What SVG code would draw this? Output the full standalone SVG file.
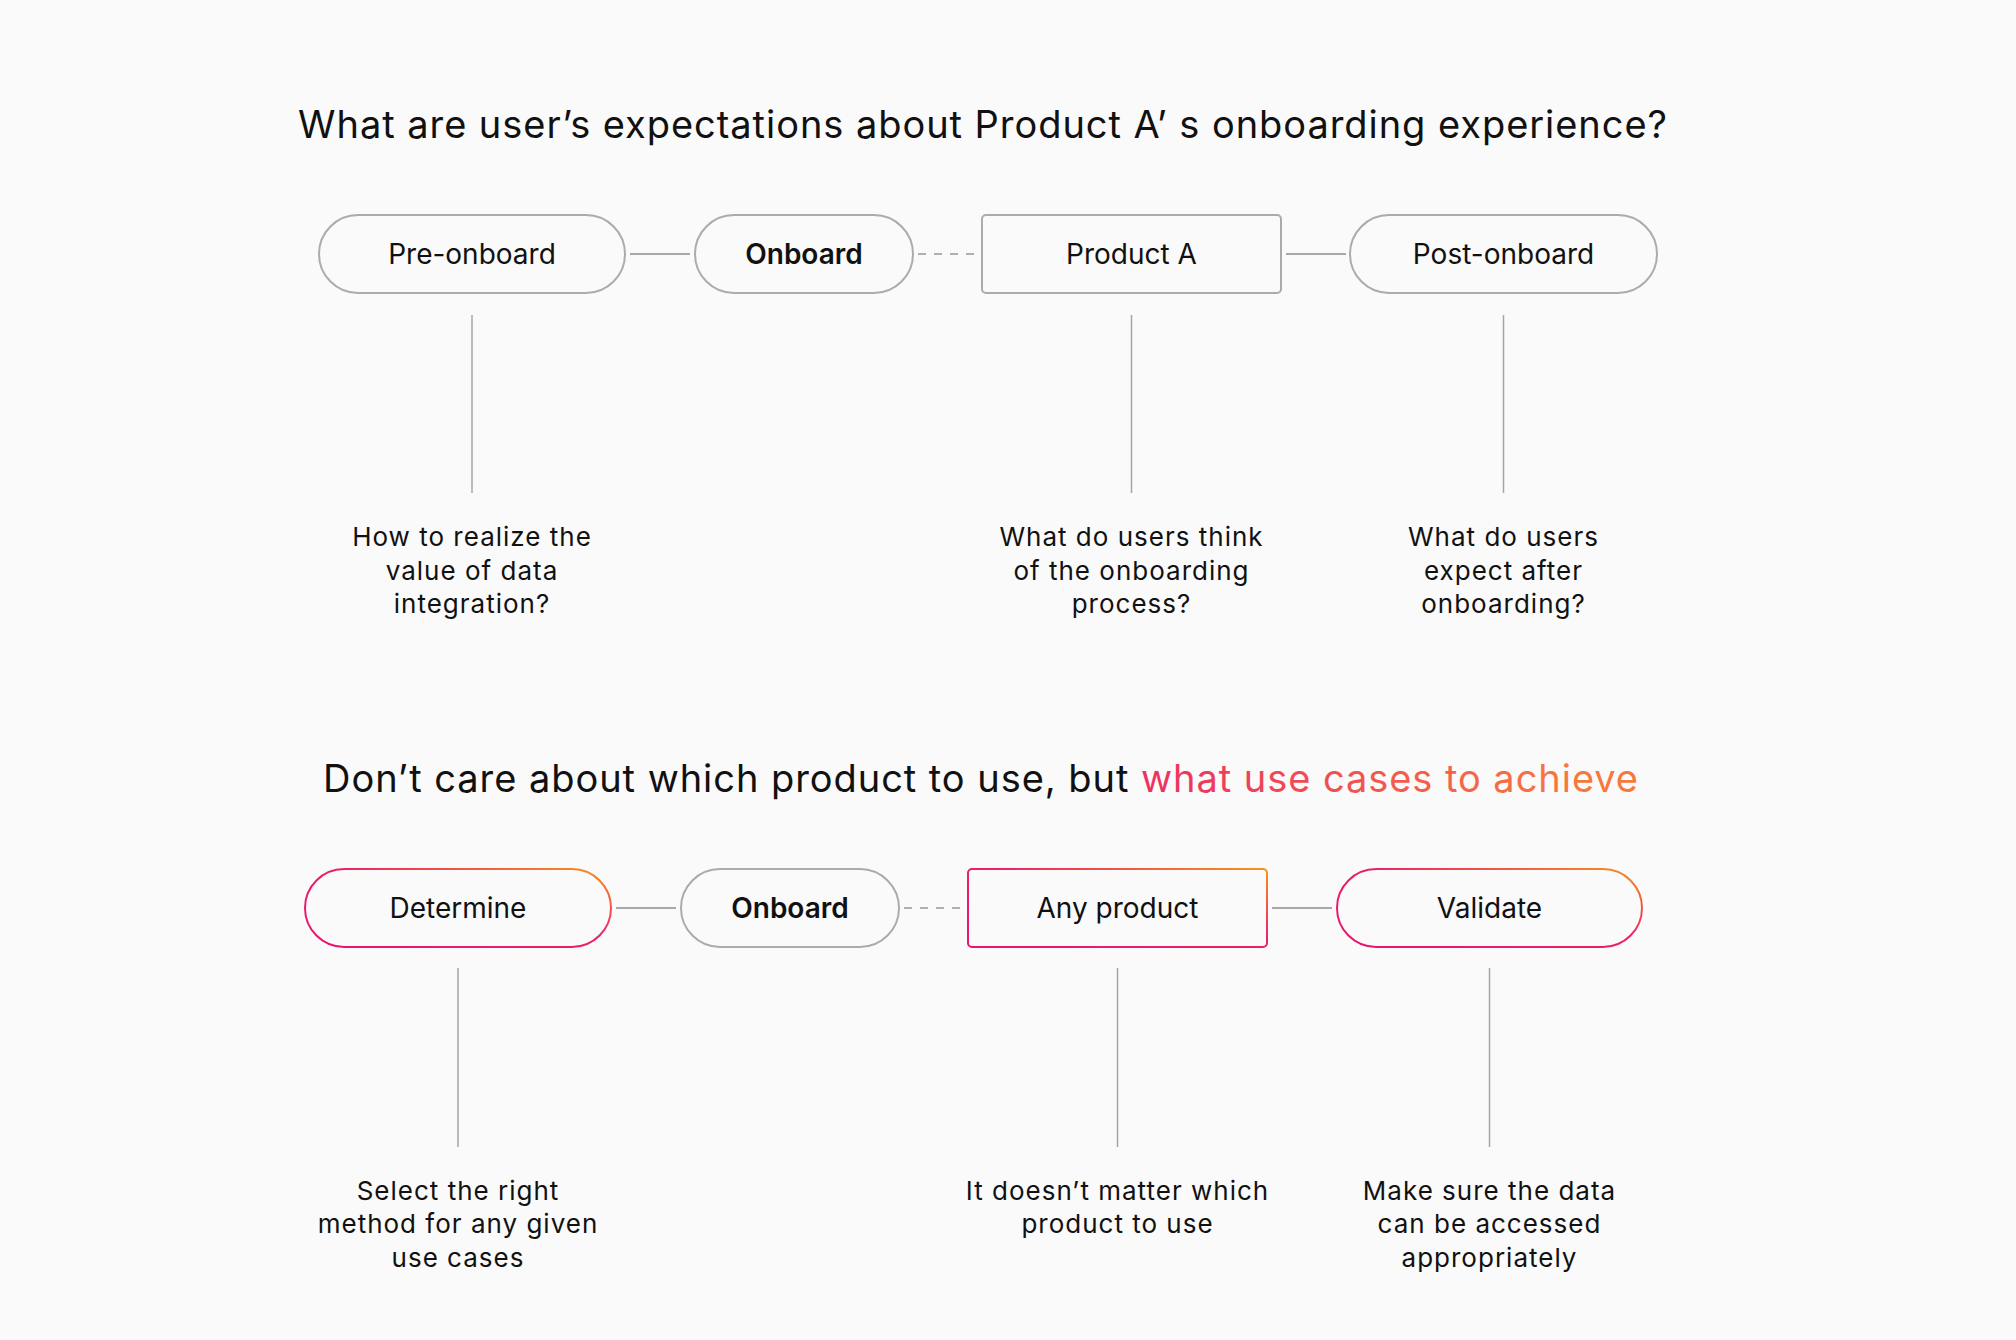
<svg xmlns="http://www.w3.org/2000/svg" width="2016" height="1340" viewBox="0 0 2016 1340">
<defs>
<linearGradient id="gb" x1="0" y1="1" x2="1" y2="0">
<stop offset="0" stop-color="#E8156F"/>
<stop offset="0.55" stop-color="#EC2068"/>
<stop offset="1" stop-color="#F7941D"/>
</linearGradient>
<linearGradient id="gt" gradientUnits="userSpaceOnUse" x1="1142" y1="800" x2="1560" y2="720">
<stop offset="0" stop-color="#EC3062"/>
<stop offset="1" stop-color="#F6783E"/>
</linearGradient>
<style>
.t{font-family:Inter,"Liberation Sans",sans-serif;fill:#111111}
.title{font-size:38px;letter-spacing:0.95px}
.lbl{font-size:28px;text-anchor:middle}
.b{font-weight:560}
.q{font-size:26px;text-anchor:middle;letter-spacing:1px}
.g{fill:none;stroke:#ABABAB;stroke-width:2}
.gr{fill:none;stroke:url(#gb);stroke-width:2}
.c{stroke:#A8A8A8;stroke-width:2;fill:none}
.d{stroke:#B0B0B0;stroke-width:2;stroke-dasharray:8 8;fill:none}
.v{stroke:#A5A5A5;stroke-width:1.5;fill:none}
</style>
</defs>
<rect width="2016" height="1340" fill="#FAFAFA"/>

<text class="t title" x="983" y="138" text-anchor="middle">What are user’s expectations about Product A’ s onboarding experience?</text>
<text class="t title" x="981" y="792" text-anchor="middle">Don’t care about which product to use, but <tspan fill="url(#gt)">what use cases to achieve</tspan></text>

<g id="connectors">
<line class="c" x1="630" y1="254" x2="690" y2="254"/>
<line class="d" x1="918" y1="254" x2="978" y2="254"/>
<line class="c" x1="1286" y1="254" x2="1346" y2="254"/>
<line class="v" x1="472" y1="315" x2="472" y2="493"/>
<line class="v" x1="1131.5" y1="315" x2="1131.5" y2="493"/>
<line class="v" x1="1503.5" y1="315" x2="1503.5" y2="493"/>
<line class="c" x1="616" y1="908" x2="676" y2="908"/>
<line class="d" x1="904" y1="908" x2="964" y2="908"/>
<line class="c" x1="1272" y1="908" x2="1332" y2="908"/>
<line class="v" x1="458" y1="968" x2="458" y2="1147"/>
<line class="v" x1="1117.5" y1="968" x2="1117.5" y2="1147"/>
<line class="v" x1="1489.5" y1="968" x2="1489.5" y2="1147"/>
</g>

<g id="pre-onboard">
<rect class="g" x="319" y="215" width="306" height="78" rx="39"/>
<text class="t lbl" x="472" y="264">Pre-onboard</text>
</g>
<g id="onboard-1">
<rect class="g" x="695" y="215" width="218" height="78" rx="39"/>
<text class="t lbl b" x="804" y="264">Onboard</text>
</g>
<g id="product-a">
<rect class="g" x="982" y="215" width="299" height="78" rx="4"/>
<text class="t lbl" x="1131.5" y="264">Product A</text>
</g>
<g id="post-onboard">
<rect class="g" x="1350" y="215" width="307" height="78" rx="39"/>
<text class="t lbl" x="1503.5" y="264">Post-onboard</text>
</g>

<g id="q-pre">
<text class="t q" x="472" y="546">How to realize the</text>
<text class="t q" x="472" y="580">value of data</text>
<text class="t q" x="472" y="613">integration?</text>
</g>
<g id="q-product">
<text class="t q" x="1131.5" y="546">What do users think</text>
<text class="t q" x="1131.5" y="580">of the onboarding</text>
<text class="t q" x="1131.5" y="613">process?</text>
</g>
<g id="q-post">
<text class="t q" x="1503.5" y="546">What do users</text>
<text class="t q" x="1503.5" y="580">expect after</text>
<text class="t q" x="1503.5" y="613">onboarding?</text>
</g>

<g id="determine">
<rect class="gr" x="305" y="869" width="306" height="78" rx="39"/>
<text class="t lbl" x="458" y="918">Determine</text>
</g>
<g id="onboard-2">
<rect class="g" x="681" y="869" width="218" height="78" rx="39"/>
<text class="t lbl b" x="790" y="918">Onboard</text>
</g>
<g id="any-product">
<rect class="gr" x="968" y="869" width="299" height="78" rx="4"/>
<text class="t lbl" x="1117.5" y="918">Any product</text>
</g>
<g id="validate">
<rect class="gr" x="1337" y="869" width="305" height="78" rx="39"/>
<text class="t lbl" x="1489.5" y="918">Validate</text>
</g>

<g id="a-determine">
<text class="t q" x="458" y="1200">Select the right</text>
<text class="t q" x="458" y="1233">method for any given</text>
<text class="t q" x="458" y="1267">use cases</text>
</g>
<g id="a-any">
<text class="t q" x="1117.5" y="1200">It doesn’t matter which</text>
<text class="t q" x="1117.5" y="1233">product to use</text>
</g>
<g id="a-validate">
<text class="t q" x="1489.5" y="1200">Make sure the data</text>
<text class="t q" x="1489.5" y="1233">can be accessed</text>
<text class="t q" x="1489.5" y="1267">appropriately</text>
</g>
</svg>
